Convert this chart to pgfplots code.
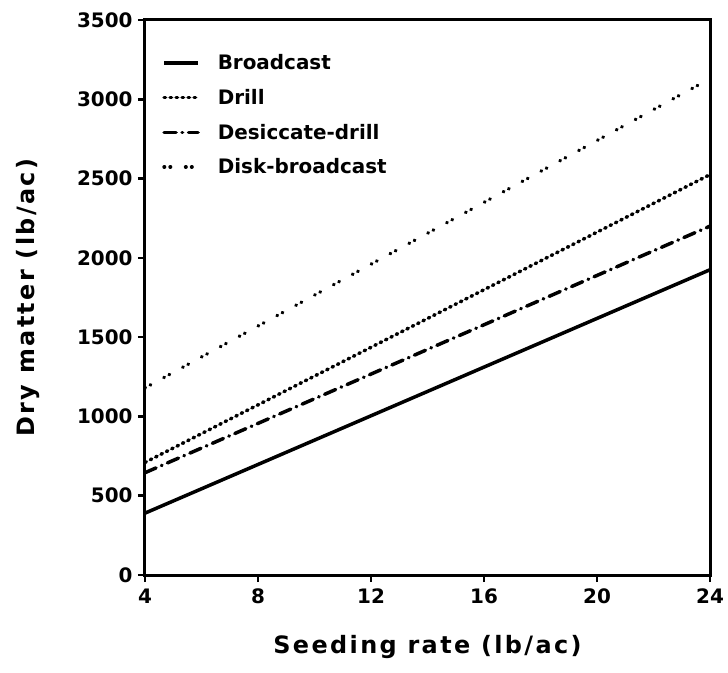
\documentclass[border=0pt]{standalone}
\usepackage{pgfplots}
\pgfplotsset{compat=1.18}
\usepackage{fontspec}
\setmainfont{DejaVu Sans}
\newfontfamily\labfont[LetterSpace=10]{DejaVu Sans}
\begin{document}
\begin{tikzpicture}
\begin{axis}[
  at={(0,0)}, anchor=south west,
  scale only axis, width=565bp, height=555bp,
  xmin=4, xmax=24, ymin=0, ymax=3500,
  xtick={4,8,12,16,20,24},
  ytick={0,500,1000,1500,2000,2500,3000,3500},
  tick pos=left,
  tick align=outside, major tick length=7bp,
  tick style={line width=2.5bp, black},
  axis line style={line width=3bp},
  /pgf/number format/assume math mode=true,
  /pgf/number format/1000 sep={},
  ticklabel style={font=\fontsize{20}{24}\selectfont\bfseries},
  xticklabel style={yshift=-3bp},
  yticklabel style={xshift=-2bp},
  xlabel={Seeding rate (lb/ac)},
  ylabel={Dry matter (lb/ac)},
  xlabel style={at={(axis description cs:0.5,-0.130)}, anchor=center, font=\fontsize{24}{28}\selectfont\bfseries\labfont},
  ylabel style={at={(axis description cs:-0.207,0.5)}, anchor=center, font=\fontsize{24}{28}\selectfont\bfseries\labfont},
  legend style={draw=none, fill=none, at={(axis description cs:0.025,0.945)}, anchor=north west,
    font=\fontsize{20}{24}\selectfont\bfseries, row sep=14bp,
    /tikz/every even column/.append style={column sep=0bp}},
  legend cell align=left,
  legend image code/.code={\draw[#1] (0bp,0bp) -- (34bp,0bp);},
]
\addplot[black, line width=3.5bp] coordinates {(4,390) (24,1925)};
\addlegendentry{\hspace{16bp}Broadcast}
\addplot[black, line width=3.5bp, line cap=round, dash pattern=on 1.5bp off 4.5bp] coordinates {(4,710) (24,2525)};
\addlegendentry{\hspace{16bp}Drill}
\addplot[black, line width=3.5bp, line cap=round, dash pattern=on 12bp off 6bp on 0.5bp off 6bp] coordinates {(4,645) (24,2200)};
\addlegendentry{\hspace{16bp}Desiccate-drill}
\addplot[black, line width=3.5bp, line cap=round, dash pattern=on 0.5bp off 5.5bp on 0.5bp off 15bp] coordinates {(4,1180) (24,3130)};
\addlegendentry{\hspace{16bp}Disk-broadcast}
\end{axis}
\pgfresetboundingbox
\path[use as bounding box] (-145bp,-98bp) rectangle (583bp,575bp);
\end{tikzpicture}
\end{document}
